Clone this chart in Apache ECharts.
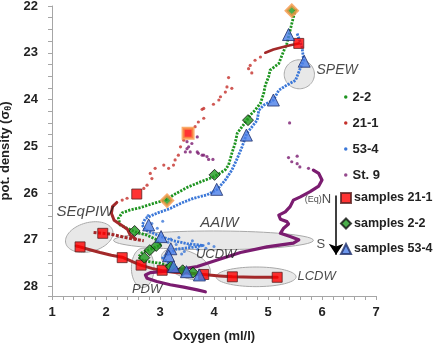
<!DOCTYPE html>
<html>
<head>
<meta charset="utf-8">
<script src="https://cdn.jsdelivr.net/npm/echarts@6/dist/echarts.min.js"></script>
<style>
  html, body { margin: 0; padding: 0; background: #fff; }
  #chart { width: 436px; height: 348px; }
</style>
</head>
<body>
<div id="chart"></div>
<script>
// ── Profiles: [oxygen ml/l, pot. density] ──────────────
const profile22 = [
  [5.51,22.06],[5.44,22.38],[5.41,22.52],[5.35,22.80],[5.26,23.05],[5.20,23.23],[5.04,23.37],
  [5.01,23.52],[4.95,23.69],[4.92,23.87],[4.86,24.08],[4.76,24.23],[4.67,24.33],[4.61,24.44],
  [4.43,24.72],[4.39,24.94],[4.33,25.15],[4.27,25.40],[4.21,25.50],[4.02,25.64],[3.84,25.72],
  [3.75,25.76],[3.50,25.88],[3.25,26.04],[3.10,26.15],[2.88,26.22],[2.64,26.31],[2.45,26.36],
  [2.30,26.42],[2.23,26.54],[2.26,26.68],[2.39,26.75],[2.54,26.83],[2.76,26.90],[2.94,27.00],
  [3.01,27.11],[2.82,27.20],[2.67,27.27],[2.60,27.37],[2.67,27.43],[2.82,27.47],[3.01,27.50],
  [3.19,27.57],[3.44,27.66],[3.62,27.73]
];
const profile534 = [
  [5.54,22.59],[5.63,22.88],[5.66,23.16],[5.57,23.41],[5.51,23.59],[5.35,23.69],[5.20,23.80],
  [5.10,24.01],[4.92,24.12],[4.83,24.23],[4.80,24.44],[4.61,24.72],[4.52,25.01],[4.43,25.26],
  [4.33,25.51],[4.21,25.72],[4.06,25.92],[3.87,26.04],[3.62,26.11],[3.38,26.22],[3.19,26.33],
  [2.94,26.43],[2.73,26.54],[2.67,26.68],[2.73,26.79],[2.88,26.86],[3.02,26.93],[3.25,27.02],
  [3.50,27.08],[3.80,27.12],[3.60,27.16],[3.30,27.20],[3.16,27.30],[3.05,27.38],[3.13,27.47],
  [3.25,27.57],[3.49,27.68],[3.72,27.75]
];
const spread534 = [
  [3.35,26.95],[3.60,27.02],[3.90,27.08],[4.00,27.14],[3.70,27.20],[3.45,27.25],[3.30,27.10],
  [3.15,27.05],[2.95,26.75],[2.85,26.65],[3.05,26.60],[3.40,27.30],[3.55,27.12],[2.78,26.48],
  [3.85,27.18],[3.20,26.98]
];
const dots211 = [
  [4.86,23.09],[4.76,23.16],[4.67,23.27],[4.64,23.34],[4.70,23.43],[4.27,23.53],[4.24,23.73],
  [4.33,23.76],[4.21,23.84],[4.12,23.94],[4.09,24.01],[3.99,24.10],[3.81,24.19],[3.78,24.21],
  [3.81,24.40],[3.71,24.48],[3.65,24.58],[3.44,24.87],[3.38,25.01],[3.34,25.19],[3.28,25.29],
  [3.25,25.40],[3.16,25.47],[3.07,25.40],[2.91,25.47],[2.82,25.58],[2.85,25.69],[2.76,25.83],
  [2.70,25.90],[2.39,26.11],[2.30,26.15]
];
const top211  = [[5.57,22.80],[5.41,22.84],[5.26,22.88],[5.10,22.93],[4.95,23.00]];
const mid211  = [[2.20,26.20],[2.12,26.29],[2.10,26.43],[2.15,26.58],[2.28,26.68],[2.40,26.78],
                 [2.45,26.90],[2.55,26.98]];
const band211 = [[1.77,26.84],[1.94,26.86],[2.10,26.88],[2.25,26.92],[2.40,26.96],[2.55,26.99],
                 [2.70,27.02]];
const deep211 = [
  [1.45,27.13],[1.52,27.15],[1.70,27.21],[1.89,27.27],[2.10,27.33],[2.30,27.37],[2.50,27.47],
  [2.64,27.54],[2.85,27.61],[3.04,27.66],[3.25,27.69],[3.44,27.71],[3.62,27.72],[3.81,27.74],
  [4.10,27.77],[4.34,27.79],[4.75,27.80],[5.17,27.80]
];
const dotsSt9 = [
  [3.50,24.90],[3.69,24.80],[3.59,24.94],[3.53,25.01],[3.50,25.05],[3.47,25.12],[3.56,25.12],
  [3.69,25.12],[3.71,25.15],[3.78,25.19],[3.81,25.19],[3.87,25.22],[3.90,25.28],[3.98,25.28],
  [5.40,24.50],[5.38,25.24],[5.44,25.33],[5.54,25.37],[5.59,25.44],[5.54,25.21],[5.75,25.47]
];
const lineSt9 = [
  [5.84,25.51],[5.94,25.58],[6.00,25.72],[5.94,25.85],[5.78,25.97],[5.60,26.08],[5.47,26.15],
  [5.41,26.29],[5.32,26.40],[5.20,26.47],[5.23,26.56],[5.35,26.61],[5.38,26.66],[5.29,26.75],
  [5.23,26.86],[5.41,26.93],[5.57,27.00],[5.47,27.07],[4.98,27.15],[4.49,27.27],[4.06,27.43],
  [3.69,27.57],[3.31,27.64],[3.01,27.68],[2.82,27.70],[2.73,27.75],[2.76,27.82],[2.94,27.89],
  [3.19,27.96],[3.44,28.01],[3.69,28.07],[3.84,28.11]
];

// ── Samples ────────────────────────────────────────────
const samples211 = [[5.57,22.80],[3.52,24.72],[2.57,26.02],[1.94,26.86],[1.52,27.15],[2.30,27.38],
                    [2.65,27.54],[3.04,27.65],[3.81,27.74],[4.34,27.79],[5.17,27.80]];
const samples22  = [[5.44,22.10],[4.63,24.44],[4.01,25.61],[3.13,26.16],[2.53,26.81],[2.93,27.13],
                    [2.81,27.22],[2.71,27.38],[3.20,27.57],[3.42,27.65],[3.61,27.70]];
const samples534 = [[5.38,22.61],[5.67,23.18],[5.10,24.01],[4.60,24.76],[4.05,25.92],[2.79,26.68],
                    [3.02,26.93],[3.20,27.19],[3.16,27.34],[3.25,27.57],[3.49,27.68],[3.73,27.75]];
const marked211 = [1];      // orange-rimmed samples
const marked22  = [0, 3];

// ── Water mass regions ─────────────────────────────────
const regionNames   = ['SPEW', 'SEqPIW', 'AAIW', 'UCDW', 'PDW', 'LCDW'];
const regionCenter  = [[5.58,23.46],[1.69,26.94],[3.99,27.01],[3.48,27.52],[2.68,27.60],[4.78,27.79]];
const regionRadius  = [[0.28,0.31],[0.45,0.31],[1.85,0.20],[0.48,0.28],[0.21,0.42],[0.74,0.21]];
const regionTilt    = [0, -15, 0, 22, 0, 0];
const regionLabelAt = [[6.28,23.37],[1.61,26.41],[4.10,26.64],[4.04,27.32],[2.76,28.05],[5.90,27.79]];

// ── N→S arrow ──────────────────────────────────────────
const arrowFrom = [6.26, 26.05];
const arrowTo   = [6.26, 27.32];
const northAt   = [6.17, 26.14];
const southAt   = [6.06, 27.09];

// ── Style ──────────────────────────────────────────────
const FONT   = "'Liberation Sans', Arial, sans-serif";
const GREEN  = '#1E9420';
const RED    = '#C4302B';
const DKRED  = '#A3292A';
const BLUE   = '#3C78D8';
const PURPLE = '#7B1C70';
const INK    = '#222';
const AXIS   = '#A6A6A6';
const LABEL_SIZE = { SPEW: 14, SEqPIW: 15, AAIW: 15, UCDW: 13, PDW: 13, LCDW: 13 };

const chart = echarts.init(document.getElementById('chart'));

// dash given -> butt caps so the dots stay apart
function dottedLine(name, data, color, width, dash) {
  return {
    name, type: 'line', data, symbol: 'none', z: 3, silent: true,
    lineStyle: { color, width, type: dash || 'solid', cap: dash ? 'butt' : 'round', join: 'round' },
    itemStyle: { color },
  };
}

function dotScatter(name, data, color, size) {
  return { name, type: 'scatter', data, symbol: 'circle', symbolSize: size, z: 3,
           itemStyle: { color }, silent: true };
}

function markedData(list, marked) {
  return list.map((p, i) => marked.includes(i)
    ? { value: p, itemStyle: { borderColor: '#F79646', borderWidth: 3 }, z: 9 }
    : p);
}

const ellipseData = regionNames.map((n, i) =>
  [regionCenter[i][0], regionCenter[i][1], regionRadius[i][0], regionRadius[i][1], regionTilt[i]]);

const legendText = { fontSize: 13, fontWeight: 'bold', color: INK, lineHeight: 16, fontFamily: FONT };

chart.setOption({
  animation: false,
  textStyle: { fontFamily: FONT },
  grid: { left: 52, right: 60, top: 6, bottom: 52, outerBoundsMode: 'none' },
  xAxis: {
    type: 'value', min: 1, max: 7, interval: 1,
    name: 'Oxygen (ml/l)', nameLocation: 'middle', nameGap: 34,
    nameTextStyle: { fontSize: 13, fontWeight: 'bold', color: INK, fontFamily: FONT },
    axisLine: { onZero: false, lineStyle: { color: AXIS } },
    axisTick: { show: true, length: 4, lineStyle: { color: AXIS } },
    minorTick: { show: true, splitNumber: 5, length: 4, lineStyle: { color: AXIS } },
    splitLine: { show: false },
    axisLabel: { fontSize: 13, fontWeight: 'bold', color: INK, margin: 10, fontFamily: FONT },
  },
  yAxis: {
    type: 'value', min: 22, max: 28.2, interval: 1, inverse: true,
    name: '{b|pot. density (σ}{s|θ}{b|)}', nameLocation: 'middle', nameGap: 27,
    nameTextStyle: {
      rich: {
        b: { fontSize: 13, fontWeight: 'bold', color: INK, fontFamily: FONT },
        s: { fontSize: 9, fontWeight: 'bold', color: INK, fontFamily: FONT,
             verticalAlign: 'bottom', padding: [6, 0, 0, 0] },
      },
    },
    axisLine: { show: true, lineStyle: { color: AXIS } },
    axisTick: { show: true, length: 4, lineStyle: { color: AXIS } },
    minorTick: { show: true, splitNumber: 4, length: 4, lineStyle: { color: AXIS } },
    splitLine: { show: false },
    axisLabel: {
      fontSize: 13, fontWeight: 'bold', color: INK, margin: 14, fontFamily: FONT,
      formatter: v => (Number.isInteger(v) ? String(v) : ''),
    },
  },
  legend: [
    {
      orient: 'vertical', left: 344, top: 89, padding: 0,
      itemWidth: 3.5, itemHeight: 3.5, itemGap: 10,
      textStyle: legendText,
      data: [
        { name: '2-2',   icon: 'circle', itemStyle: { color: GREEN } },
        { name: '21-1',  icon: 'circle', itemStyle: { color: RED } },
        { name: '53-4',  icon: 'circle', itemStyle: { color: BLUE } },
        { name: 'St. 9', icon: 'circle', itemStyle: { color: PURPLE } },
      ],
    },
    {
      orient: 'vertical', left: 340, top: 190, padding: 0,
      itemWidth: 10, itemHeight: 10, itemGap: 9.5,
      textStyle: Object.assign({}, legendText, { fontSize: 12.5, padding: [0, 0, 0, -2] }),
      data: [
        { name: 'samples 21-1', icon: 'rect' },
        { name: 'samples 2-2',  icon: 'diamond' },
        { name: 'samples 53-4', icon: 'triangle' },
      ],
    },
  ],
  series: [
    // water-mass ellipses
    {
      type: 'custom', data: ellipseData, z: 1, silent: true,
      renderItem(params, api) {
        const c = api.coord([api.value(0), api.value(1)]);
        const s = api.size([api.value(2), api.value(3)]);
        const rx = Math.abs(s[0]), ry = Math.abs(s[1]);
        const rot = api.value(4) * Math.PI / 180;
        const pts = [];
        for (let k = 0; k < 72; k++) {
          const t = k / 72 * Math.PI * 2;
          const ex = rx * Math.cos(t), ey = ry * Math.sin(t);
          pts.push([c[0] + ex * Math.cos(rot) - ey * Math.sin(rot),
                    c[1] + ex * Math.sin(rot) + ey * Math.cos(rot)]);
        }
        return { type: 'polygon', shape: { points: pts },
                 style: { fill: 'rgba(218,218,218,0.62)', stroke: '#A8A8A8', lineWidth: 1 } };
      },
    },
    // region labels
    {
      type: 'scatter', symbolSize: 0, z: 8, silent: true,
      data: regionNames.map((n, i) => ({
        name: n, value: regionLabelAt[i], label: { fontSize: LABEL_SIZE[n] },
      })),
      label: {
        show: true, position: 'inside', color: '#1a1a1a', fontStyle: 'italic', fontFamily: FONT,
        formatter: p => p.name,
      },
    },
    dottedLine('2-2',  profile22,  GREEN, 2.8, [2.2, 1.3]),
    dottedLine('53-4', profile534, BLUE,  2.8, [2.2, 1.1]),
    dotScatter('53-4', spread534, BLUE, 3),
    dottedLine('21-1', top211,  DKRED, 2.6),
    dotScatter('21-1', dots211, RED, 3.2),
    dottedLine('21-1', mid211,  DKRED, 3),
    dottedLine('21-1', band211, DKRED, 3, [3, 1.5]),
    dottedLine('21-1', deep211, DKRED, 3),
    dotScatter('St. 9', dotsSt9, PURPLE, 3.2),
    dottedLine('St. 9', lineSt9, PURPLE, 3.2),
    // arrow + N/S
    {
      type: 'lines', coordinateSystem: 'cartesian2d', z: 6, silent: true,
      symbol: ['none', 'arrow'], symbolSize: [0, 11],
      lineStyle: { color: '#000', width: 1.5, opacity: 1 },
      data: [{ coords: [arrowFrom, arrowTo] }],
    },
    {
      type: 'scatter', symbolSize: 0, z: 8, silent: true,
      data: [{ name: 'N', value: northAt }, { name: 'S', value: southAt }],
      label: {
        show: true, color: '#1a1a1a', fontFamily: FONT,
        formatter: p => (p.name === 'N' ? '{e|(Eq)}{n|N}' : '{n|S}'),
        position: 'left', distance: 0,
        rich: { e: { fontSize: 9, color: '#1a1a1a' }, n: { fontSize: 13, color: '#1a1a1a' } },
      },
    },
    {
      name: 'samples 21-1', type: 'scatter', symbol: 'rect', symbolSize: 10, z: 7,
      data: markedData(samples211, marked211),
      itemStyle: { color: '#FF0000', borderColor: '#5A2020', borderWidth: 1 },
    },
    {
      name: 'samples 2-2', type: 'scatter', symbol: 'diamond', symbolSize: 11, z: 7,
      data: markedData(samples22, marked22),
      itemStyle: { color: '#1E9A1E', borderColor: '#111', borderWidth: 1 },
    },
    {
      name: 'samples 53-4', type: 'scatter', symbol: 'triangle', symbolSize: 12, z: 7,
      data: samples534,
      itemStyle: { color: '#4A7EE8', borderColor: '#1F2F6A', borderWidth: 1 },
    },
  ],
});
</script>
</body>
</html>
